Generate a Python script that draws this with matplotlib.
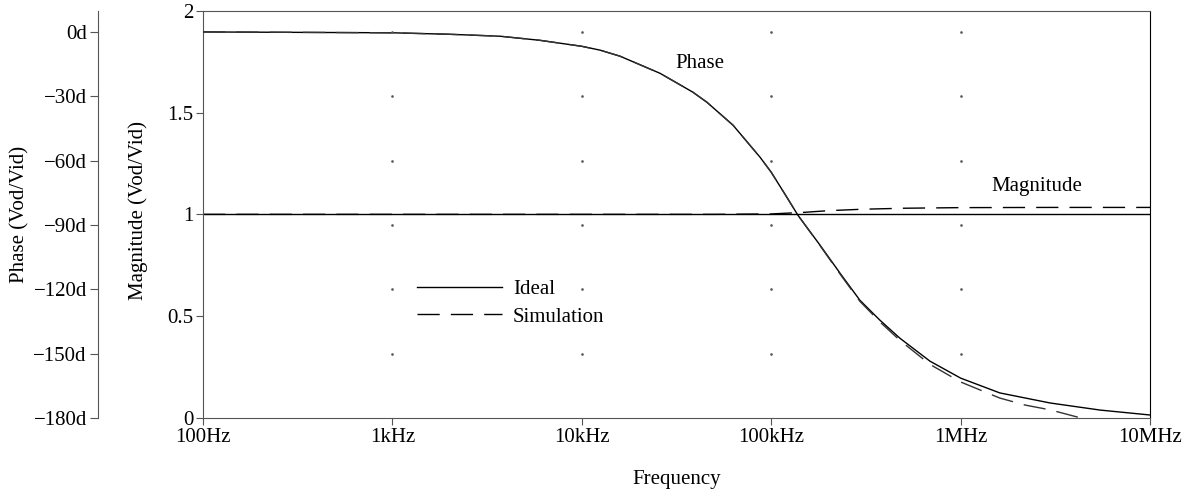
import numpy as np
import matplotlib
matplotlib.use("Agg")
import matplotlib.pyplot as plt
from matplotlib.ticker import FixedLocator, FuncFormatter

plt.rcParams['font.family'] = ['Liberation Serif', 'DejaVu Serif']
plt.rcParams['font.size'] = 15

# values
freq_ideal = [100, 1e3, 2.01e3, 3.7e3, 6.0e3, 1e4, 1.25e4, 1.59e4, 2.59e4, 3.86e4, 4.58e4,
              6.29e4, 8.73e4, 1e5, 1.183e5, 1.385e5, 1.81e5, 2.31e5, 2.94e5, 3.75e5,
              4.78e5, 6.89e5, 1e6, 1.61e6, 2.97e6, 5.45e6, 1e7]
phase_ideal = [0, -0.4, -1.1, -2.0, -3.9, -6.7, -8.5, -11.3, -19.3, -28.1, -32.8,
               -43.5, -58.4, -65.4, -75.7, -85.5, -99.4, -112.5, -125.1, -134.4,
               -142.8, -153.5, -161.4, -168.3, -173.0, -176.3, -178.6]

freq_sim_ph = [100, 1e3, 2.01e3, 3.7e3, 6.0e3, 1e4, 1.25e4, 1.59e4, 2.59e4, 3.86e4, 4.58e4,
               6.29e4, 8.73e4, 1e5, 1.183e5, 1.385e5, 1.81e5, 2.31e5, 2.94e5, 3.75e5,
               4.78e5, 6.89e5, 1e6, 1.61e6, 2.2e6, 2.97e6, 4.54e6]
phase_sim = [0, -0.4, -1.1, -2.0, -3.9, -6.7, -8.5, -11.3, -19.3, -28.1, -32.8,
             -43.5, -58.4, -65.4, -75.7, -85.5, -99.6, -112.9, -125.6, -135.2,
             -143.8, -155.0, -163.2, -170.7, -174.0, -176.2, -180.5]

freq_mag = [100, 1e3, 1e4, 5e4, 1e5, 1.5e5, 2e5, 3e5, 5e5, 1e6, 3e6, 1e7]
mag_ideal = [1, 1, 1, 1, 1, 1, 1, 1, 1, 1, 1, 1]
mag_sim = [1, 1, 1, 1, 1.002, 1.01, 1.018, 1.025, 1.03, 1.033, 1.034, 1.034]

freq_ticks = [100, 1e3, 1e4, 1e5, 1e6, 1e7]
freq_labels = ['100Hz', '1kHz', '10kHz', '100kHz', '1MHz', '10MHz']
mag_ticks = [0, 0.5, 1, 1.5, 2]
mag_labels = ['0', '0.5', '1', '1.5', '2']
phase_ticks = [0, -30, -60, -90, -120, -150, -180]

spine_col = '#555555'
dash = (0, (16, 8))

fig = plt.figure(figsize=(11.9, 4.95), dpi=100)
ax = fig.add_axes([203 / 1190, 1 - 418 / 495, 947 / 1190, 407.3 / 495])
ax.set_xscale('log')
ax.set_xlim(100, 1e7)
ax.set_ylim(0, 2)

ax2 = ax.twinx()
ax2.set_ylim(-180, 9.9)

# magnitude curves
ax.plot(freq_mag, mag_ideal, color='black', lw=1.0, label='Ideal')
ax.plot(freq_mag, mag_sim, color='black', lw=1.0, ls=dash, label='Simulation')

# phase curves
ax2.plot(freq_ideal, phase_ideal, color='black', lw=1.0)
ax2.plot(freq_sim_ph, phase_sim, color='#333333', lw=1.0, ls=dash)

# dotted grid points at intersections
gx, gy = np.meshgrid(freq_ticks[1:-1], phase_ticks[:-1])
ax2.plot(gx.ravel(), gy.ravel(), ls='none', marker='s', ms=0.8, color='#555555')

# axes styling
for s in ['top', 'right', 'bottom', 'left']:
    ax.spines[s].set_color(spine_col)
ax.spines['right'].set_color('black')
for s in ['top', 'right', 'bottom']:
    ax2.spines[s].set_visible(False)
ax2.spines['left'].set_visible(True)
ax2.spines['left'].set_position(('axes', (98 - 203) / 947))
ax2.spines['left'].set_color(spine_col)
ax2.yaxis.set_ticks_position('left')
ax2.yaxis.set_label_position('left')

ax.xaxis.set_major_locator(FixedLocator(freq_ticks))
ax.set_xticklabels(freq_labels)
ax.xaxis.set_minor_locator(FixedLocator([]))
ax.set_yticks(mag_ticks)
ax.set_yticklabels(mag_labels)
ax2.yaxis.set_major_locator(FixedLocator(phase_ticks))
ax2.yaxis.set_major_formatter(FuncFormatter(lambda v, p: f"{int(v)}d".replace('-', '\u2212')))

ax.tick_params(axis='both', direction='out', length=5, color=spine_col, pad=2)
ax2.tick_params(axis='y', direction='out', length=6, color=spine_col, pad=2)

ax.set_xlabel('Frequency')
ax.xaxis.set_label_coords(0.5, -0.128)
ax.set_ylabel('Magnitude (Vod/Vid)')
ax.yaxis.set_label_coords((148 - 203) / 947, 0.51)
ax2.set_ylabel('Phase (Vod/Vid)')
ax2.yaxis.set_label_coords((29 - 203) / 947, 0.5)

ax.text(0.525, 0.87, 'Phase', transform=ax.transAxes, ha='center', va='center')
ax.text(0.881, 0.568, 'Magnitude', transform=ax.transAxes, ha='center', va='center')

ax.legend(loc='upper left', bbox_to_anchor=(0.226, 0.34), frameon=False,
          borderpad=0, borderaxespad=0, handlelength=4.1, handletextpad=0.5,
          labelspacing=0.38)

fig.savefig('out.png', dpi=100)
